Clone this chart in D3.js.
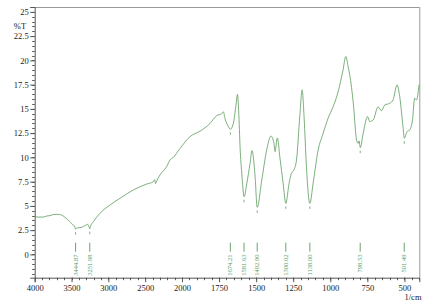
<!DOCTYPE html>
<html><head><meta charset="utf-8">
<script src="https://cdn.jsdelivr.net/npm/d3@7"></script>
<style>body{margin:0;background:#fff}svg{display:block}text{font-family:"Liberation Serif","Times New Roman",serif}</style>
</head><body><svg id="c" width="436" height="304"></svg>
<script>
const wavenumbers = [4000,3950,3883,3840,3792,3740,3701,3647,3589,3521,3476,3460,3445,3430,3362,3304,3280,3260,3252,3240,3205,3114,2978,2843,2662,2480,2391,2370,2360,2345,2300,2209,2163,2118,2028,1946,1879,1811,1766,1733,1721,1710,1688,1674,1654,1635,1626,1618,1608,1597,1581,1563,1541,1528,1507,1493,1462,1429,1400,1380,1373,1357,1340,1318,1300,1278,1262,1246,1228,1206,1190,1177,1161,1138,1116,1082,1048,1015,981,947,914,896,878,869,845,823,812,806,798,778,749,734,711,678,655,633,599,577,550,532,510,501,483,464,446,431,419,402];
const transmittance = [3.88,3.85,3.85,3.95,4.0,4.12,4.13,4.09,3.82,3.36,3.0,2.95,2.6,2.72,2.79,3.02,3.1,2.8,2.65,2.95,3.36,4.23,5.09,5.78,6.64,7.25,7.49,7.7,7.3,7.55,8.18,9.04,9.73,10.0,10.9,12.14,12.7,13.5,14.3,14.5,14.7,14.0,13.2,12.9,13.5,15.5,16.5,14.8,10.9,8.36,5.94,7.33,9.39,10.7,8.0,4.85,7.67,10.76,12.2,11.45,10.6,12.0,10.0,7.33,5.26,7.33,8.36,8.7,9.73,14.2,16.96,14.2,9.04,5.26,7.33,10.76,12.49,14.04,15.23,16.78,19.02,20.4,19.2,18.5,15.58,11.8,11.45,11.7,11.0,12.5,14.2,13.7,13.86,15.2,14.8,15.4,15.58,15.92,17.47,16.26,13.17,11.97,12.65,12.83,13.86,16.1,15.92,17.47];
const peakLabels = ["3444.87","3251.98","1674.21","1581.63","1492.90","1300.02","1138.00","798.53","501.49"];
const peakPositions = [3444.87,3251.98,1674.21,1581.63,1492.90,1300.02,1138.00,798.53,501.49];
const peakMinT = [2.6,2.65,12.9,5.94,4.85,5.26,5.26,11.0,11.97];
const xTicks = [4000,3500,3000,2500,2000,1750,1500,1250,1000,750,500];
const yTicks = [0,2.5,5,7.5,10,12.5,15,17.5,20,22.5,25];

const svg = d3.select("#c");
const L=34.7, R=419.3, T=7, B=277.7;
const x = d3.scaleLinear().domain([4000,2000,400]).range([L,182,R]);
const y = d3.scaleLinear().domain([-2.4,25.5]).range([B,T]);
const axisCol="#555", frameCol="#999", green="#5a9a5a";

// frame
svg.append("line").attr("x1",L).attr("x2",R).attr("y1",T+0.5).attr("y2",T+0.5).attr("stroke",frameCol);
svg.append("line").attr("x1",R+0.5).attr("x2",R+0.5).attr("y1",T).attr("y2",B).attr("stroke",frameCol);

// minor ticks
const xMinor = d3.range(4000,2000,-100).concat(d3.range(2000,399,-50));
svg.append("g").selectAll("line").data(xMinor).join("line")
  .attr("x1",d=>Math.round(x(d))+0.5).attr("x2",d=>Math.round(x(d))+0.5)
  .attr("y1",B).attr("y2",B+2.5).attr("stroke",axisCol);
const yMinor = d3.range(-2,25.51,0.5);
svg.append("g").selectAll("line").data(yMinor).join("line")
  .attr("y1",d=>Math.round(y(d))+0.5).attr("y2",d=>Math.round(y(d))+0.5)
  .attr("x1",L-2.5).attr("x2",L).attr("stroke",axisCol);

// axes
const xAxis = svg.append("g").attr("transform",`translate(0,${B})`)
  .call(d3.axisBottom(x).tickValues(xTicks).tickSize(4.5).tickPadding(3).tickFormat(d3.format("d")));
const yAxis = svg.append("g").attr("transform",`translate(${L},0)`)
  .call(d3.axisLeft(y).tickValues(yTicks).tickSize(4.5).tickPadding(1.5).tickFormat(d=>d));
[xAxis,yAxis].forEach(g=>{
  g.select(".domain").attr("stroke",axisCol);
  g.selectAll(".tick line").attr("stroke",axisCol);
  g.selectAll("text").attr("fill","#222").style("font-size","8.5px").style("font-family","'Liberation Serif',serif");
});

svg.append("text").attr("x",20).attr("y",28.5).attr("text-anchor","middle").attr("fill","#222").style("font-size","8.5px").text("%T");
svg.append("text").attr("x",413).attr("y",300).attr("text-anchor","middle").attr("fill","#222").style("font-size","8.5px").text("1/cm");

// spectrum
const pts = wavenumbers.map((w,i)=>[w,transmittance[i]]);
svg.append("path").datum(pts)
  .attr("d",d3.line().x(d=>x(d[0])).y(d=>y(d[1])).curve(d3.curveMonotoneX))
  .attr("fill","none").attr("stroke",green).attr("stroke-width",0.8);

// peak markers on curve
svg.append("g").selectAll("line").data(peakPositions).join("line")
  .attr("x1",d=>x(d)).attr("x2",d=>x(d))
  .attr("y1",(d,i)=>y(peakMinT[i])+3).attr("y2",(d,i)=>y(peakMinT[i])+5.5)
  .attr("stroke",green).attr("stroke-width",0.8);

// peak label lines and text
const pk = svg.append("g");
pk.selectAll("line").data(peakPositions).join("line")
  .attr("x1",d=>x(d)).attr("x2",d=>x(d)).attr("y1",242.7).attr("y2",251.7)
  .attr("stroke",green).attr("stroke-width",0.9);
pk.selectAll("text").data(peakLabels).join("text")
  .attr("transform",(d,i)=>`translate(${x(peakPositions[i])+2},254.5) rotate(-90)`)
  .attr("text-anchor","end").attr("fill",green).style("font-size","6.5px").text(d=>d);
</script></body></html>
